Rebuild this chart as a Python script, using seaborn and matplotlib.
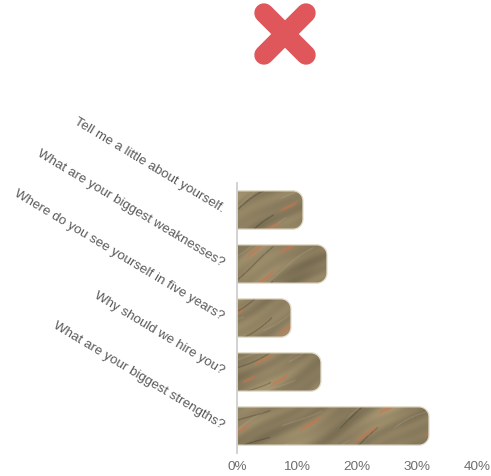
import numpy as np
import pandas as pd
import seaborn as sns
import matplotlib
matplotlib.use("Agg")
import matplotlib.pyplot as plt
from matplotlib.patches import PathPatch
from matplotlib.path import Path
from matplotlib.lines import Line2D

# ---- data -------------------------------------------------------------
questions = [
    "Tell me a little about yourself.",
    "What are your biggest weaknesses?",
    "Where do you see yourself in five years?",
    "Why should we hire you?",
    "What are your biggest strengths?",
]
shares = [11, 15, 9, 14, 32]          # percent of answers
x_ticks = [0, 10, 20, 30, 40]
x_tick_labels = ["0%", "10%", "20%", "30%", "40%"]

df = pd.DataFrame({"question": questions, "share": shares})

# ---- style ------------------------------------------------------------
sns.set_theme(style="white")
plt.rcParams["font.family"] = ["Liberation Sans", "DejaVu Sans"]

W_PX, H_PX = 491, 476
fig = plt.figure(figsize=(W_PX / 100, H_PX / 100), dpi=100)
fig.patch.set_facecolor("white")

ax_left, ax_right, ax_top, ax_bottom = 237, 477, 183, 453
ax = fig.add_axes([ax_left / W_PX, 1 - ax_bottom / H_PX,
                   (ax_right - ax_left) / W_PX, (ax_bottom - ax_top) / H_PX])

sns.barplot(data=df, x="share", y="question", orient="h",
            color="#8c7e60", width=0.71, ax=ax)
ax.set_xlim(0, 40)
ax.set_ylim(len(questions) - 0.5, -0.5)

# ---- slate-like stone texture for the bar fill ----------------------------
tex_w, tex_h = 480, 540
gx, gy = np.meshgrid(np.linspace(0, 240, tex_w), np.linspace(0, 270, tex_h))
th = np.deg2rad(30)
a = gx * np.cos(th) - gy * np.sin(th)      # along the grain
c = gx * np.sin(th) + gy * np.cos(th)      # across the grain

f1 = np.sin(0.21 * c + 0.9 * np.sin(0.035 * a + 0.7))
f2 = np.sin(0.47 * c + 1.2 * np.sin(0.06 * a + 1.9) + 0.5 * np.sin(0.11 * c))
f3 = np.sin(0.09 * c + 0.05 * a + 1.3)
f4 = np.sin(0.018 * a + 0.06 * c + 0.4) * np.sin(0.027 * a - 0.04 * c + 2.2)

bright = 1 + 0.05 * f1 + 0.035 * f2 + 0.05 * f3 + 0.07 * f4
base = np.array([141, 127, 96]) / 255.0
img = base[None, None, :] * bright[..., None]

# faint pale streaks following the grain
pale = (np.abs(np.sin(0.16 * c + 0.7 * np.sin(0.05 * a + 0.3))) < 0.06) & \
       (np.sin(0.04 * a + 0.15 * c) > 0.2)
img[pale] = img[pale] * 0.7 + np.array([0.80, 0.77, 0.70]) * 0.3

# short dark cracks
crack = (np.abs(np.sin(0.12 * c + 0.8 * np.sin(0.04 * a + 1.0))) < 0.06) & \
        (np.sin(0.05 * a + 0.03 * c + 0.5) > 0.45)
img[crack] *= 0.72

# rusty flecks stretched along the grain
fleck = (f2 > 0.8) & (np.sin(0.09 * a + 0.23 * c + 0.6) > 0.6) & (f3 > -0.2)
img[fleck] = img[fleck] * 0.4 + np.array([0.80, 0.45, 0.30]) * 0.6
img = np.clip(img, 0, 1)


def right_rounded(x0, y0, w, h, rx, ry, n=14):
    """Bar outline with a square left end and rounded right corners."""
    ya, yb = min(y0, y0 + h), max(y0, y0 + h)
    xr = x0 + w
    pts = [(x0, ya), (xr - rx, ya)]
    for t in np.linspace(-np.pi / 2, 0, n):
        pts.append((xr - rx + rx * np.cos(t), ya + ry + ry * np.sin(t)))
    for t in np.linspace(0, np.pi / 2, n):
        pts.append((xr - rx + rx * np.cos(t), yb - ry + ry * np.sin(t)))
    pts.append((x0, yb))
    pts.append((x0, ya))
    codes = [Path.MOVETO] + [Path.LINETO] * (len(pts) - 2) + [Path.CLOSEPOLY]
    return Path(pts, codes)


# corner radius of ~10 px expressed in data units on each axis
px_per_x = (ax_right - ax_left) / 40.0
px_per_y = (ax_bottom - ax_top) / len(questions)
rx, ry = 10 / px_per_x, 10 / px_per_y

for bar in list(ax.patches):
    x0, y0, w, h = bar.get_x(), bar.get_y(), bar.get_width(), bar.get_height()
    bar.set_visible(False)
    outline = PathPatch(right_rounded(x0, y0, w, h, rx, ry),
                        facecolor="none", edgecolor="#e4ddcc", lw=0.9, zorder=4)
    ax.add_patch(outline)
    im = ax.imshow(img, extent=(0, 40, len(questions) - 0.5, -0.5),
                   aspect="auto", interpolation="bilinear", zorder=3)
    im.set_clip_path(outline)
ax.set_xlim(0, 40)
ax.set_ylim(len(questions) - 0.5, -0.5)

# ---- axes ---------------------------------------------------------------
for side in ("top", "right", "bottom"):
    ax.spines[side].set_visible(False)
ax.spines["left"].set_color("#cfcfcf")
ax.spines["left"].set_linewidth(1.3)
ax.spines["left"].set_zorder(5)

ax.set_xticks(x_ticks)
ax.set_xticklabels(x_tick_labels, fontsize=9.7, color="#6e6e6e")
ax.set_yticks(range(len(questions)))
ax.set_yticklabels(questions, fontsize=9.6, color="#5a5a5a",
                   rotation=-31, ha="right", va="center", rotation_mode="anchor")
ax.tick_params(axis="x", length=0, pad=6)
ax.tick_params(axis="y", length=0, pad=10)
ax.set_xlabel("")
ax.set_ylabel("")
ax.grid(False)

# ---- red cross mark above the chart ---------------------------------------
cx, cy, arm, stroke = 285, 34, 21, 14.0
for dx in (1, -1):
    fig.add_artist(Line2D(
        [(cx - arm) / W_PX, (cx + arm) / W_PX],
        [1 - (cy - dx * arm) / H_PX, 1 - (cy + dx * arm) / H_PX],
        transform=fig.transFigure, color="#df565b", lw=stroke,
        solid_capstyle="round"))

fig.savefig("out.png", dpi=100, facecolor="white")
